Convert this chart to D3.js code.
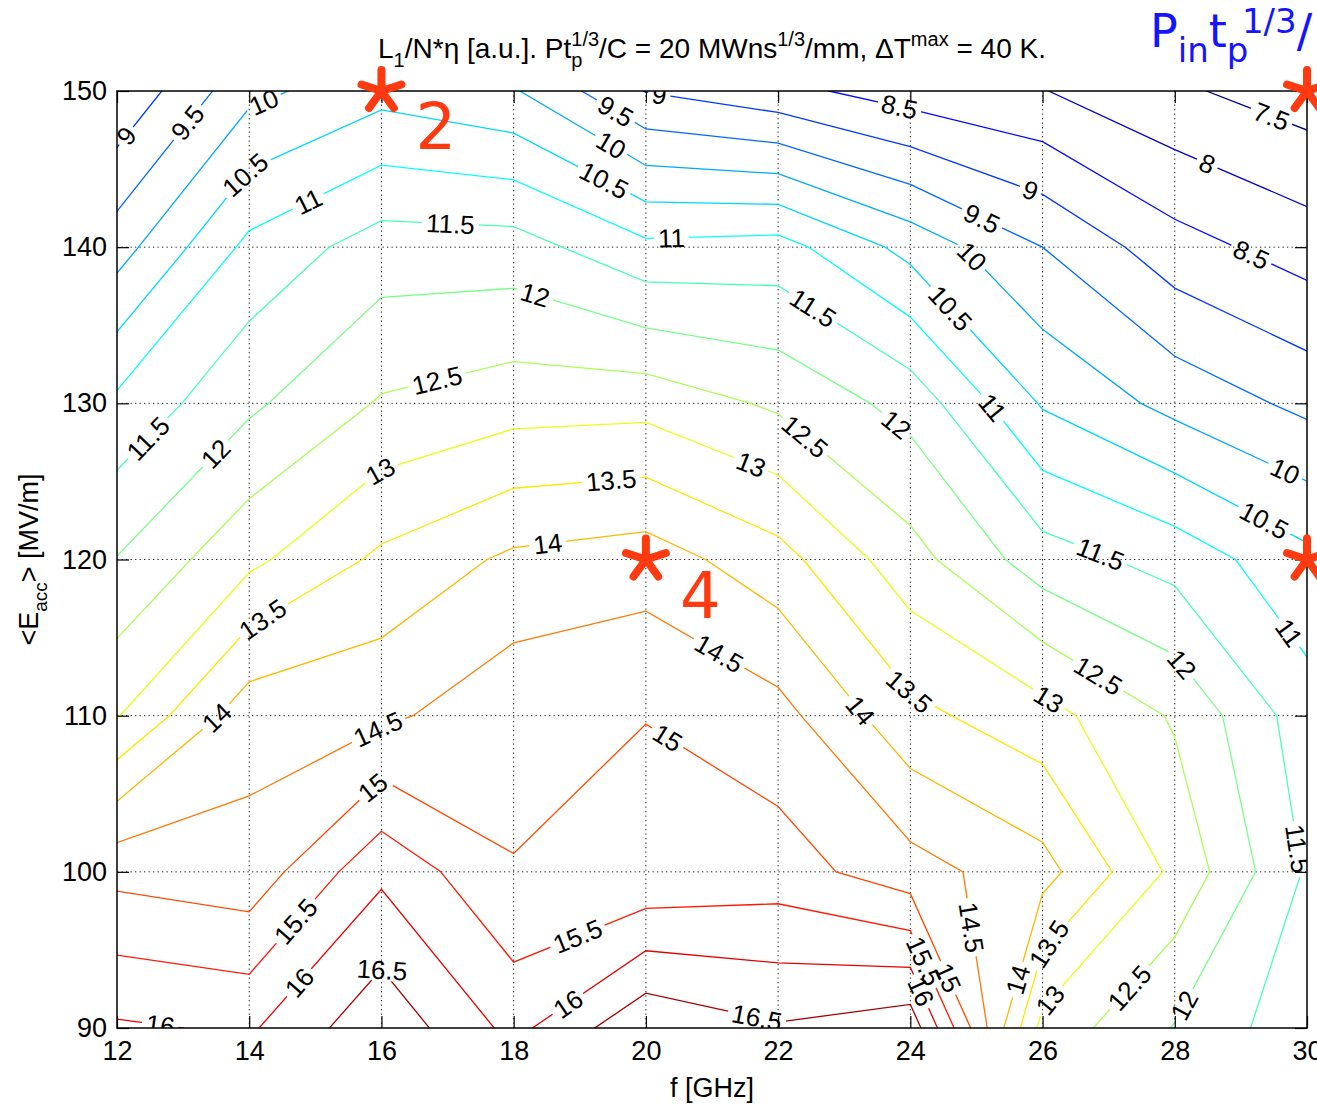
<!DOCTYPE html>
<html>
<head>
<meta charset="utf-8">
<script src="https://cdn.jsdelivr.net/npm/d3@7"></script>
<style>
  body { margin: 0; background: #fff; }
  svg { display: block; }
  text { font-family: "Liberation Sans", Arial, Helvetica, sans-serif; white-space: pre; }
</style>
</head>
<body>
<svg id="chart" width="1317" height="1104"></svg>
<script>
// grid of the map: frequency columns, gradient rows
const freq = [12, 14, 16, 18, 20, 22, 24, 26, 28, 30];
const eacc = [90, 100, 110, 120, 130, 140, 150];

// L1/N*eta, one row per <Eacc>, from 90 MV/m up
const z90  = [16.07, 15.93, 16.87, 15.85, 16.91, 16.55, 16.82, 12.83, 11.97, 11.15];
const z100 = [14.85, 14.68, 15.89, 15.02, 15.07, 15.23, 14.705, 14.19, 12.88, 11.44];
const z110 = [12.97, 14.31, 14.39, 14.85, 14.996, 14.68, 13.64, 13.19, 12.44, 11.22];
const z120 = [12.02, 12.88, 13.605, 14.1, 14.255, 13.69, 12.69, 11.73, 11.31, 10.635];
const z130 = [11.11, 11.905, 12.55, 12.785, 12.825, 12.415, 11.82, 10.45, 9.845, 9.37];
const z140 = [9.78, 11.135, 11.74, 11.72, 11.12, 11.2, 10.335, 9.5, 8.7, 8.265];
const z150 = [8.56, 9.86, 10.33, 10.05, 8.98, 8.65, 8.26, 8.02, 7.58, 7.245];

const levels = [7.5, 8, 8.5, 9, 9.5, 10, 10.5, 11, 11.5, 12, 12.5, 13, 13.5, 14, 14.5, 15, 15.5, 16, 16.5];

// inline contour labels: level and the (f, Eacc) spot where it sits
const labelLevel = [9, 9.5, 10, 10.5, 11, 11.5, 12, 12.5, 9.5, 10, 10.5, 11, 9, 8.5, 9.5, 10, 10.5, 11.5, 9, 8, 7.5, 8.5,
  11.5, 12, 13, 13.5, 14, 13.5, 14, 14.5, 12.5, 12, 13, 11, 13.5, 14, 10, 10.5, 11.5, 11, 12, 12.5, 13,
  14.5, 15, 15.5, 16, 16.5, 16, 15, 15.5, 16, 16.5, 14.5, 15, 15.5, 16, 14, 13.5, 13, 12.5, 12, 11.5];
const labelF = [12.22, 13.08, 14.24, 14.04, 14.92, 17.04, 18.3, 16.86, 19.51, 19.43, 19.33, 20.39, 20.19, 23.82, 25.0, 24.85, 24.52, 22.51, 25.79, 28.46, 29.45, 29.12,
  12.57, 13.51, 16.03, 14.24, 13.56, 19.48, 18.52, 21.05, 22.36, 23.72, 21.57, 25.16, 23.95, 23.16, 29.62, 29.29, 26.87, 29.65, 28.06, 26.82, 26.04,
  15.98, 15.93, 14.74, 14.77, 16.0, 12.65, 20.29, 19.0, 18.85, 21.68, 24.83, 24.55, 24.02, 24.1, 25.64, 26.14, 26.17, 27.38, 28.18, 29.75];
const labelE = [146.86, 147.93, 149.1, 144.3, 142.7, 141.2, 136.6, 131.17, 148.46, 146.22, 143.98, 140.25, 149.42, 148.67, 141.1, 139.07, 135.76, 135.98, 143.34, 145.05, 148.25, 139.18,
  127.33, 126.69, 125.41, 115.91, 109.61, 124.77, 120.82, 113.56, 127.65, 128.29, 125.84, 129.46, 111.43, 110.04, 125.2, 122.0, 120.29, 115.06, 113.14, 112.39, 110.68,
  108.87, 105.13, 96.7, 92.86, 93.7, 90.08, 108.33, 95.53, 91.36, 90.72, 96.38, 93.18, 93.93, 92.22, 93.07, 95.21, 91.58, 92.32, 91.36, 101.4];

// hand-drawn markers
const markF = [16, 20, 30, 30];
const markE = [150, 120, 150, 120];
const markTag = ["2", "4", "", ""];

const W = 1317, H = 1104;
const pL = 117, pR = 1307, pT = 91, pB = 1028;
const svg = d3.select("#chart");

const x = d3.scaleLinear().domain([12, 30]).range([pL, pR]);
const y = d3.scaleLinear().domain([90, 150]).range([pB, pT]);
// d3.contours puts sample i at grid coordinate i + 0.5
const gx = d3.scaleLinear().domain([0.5, freq.length - 0.5]).range([x(freq[0]), x(freq[freq.length - 1])]);
const gy = d3.scaleLinear().domain([0.5, eacc.length - 0.5]).range([y(eacc[0]), y(eacc[eacc.length - 1])]);

const values = [z90, z100, z110, z120, z130, z140, z150].flat();
const contours = d3.contours().size([freq.length, eacc.length]).thresholds(levels)(values);

// MATLAB jet(64) over the data range
const cnorm = d3.scaleLinear().domain(d3.extent(values)).range([0, 1]).clamp(true);
function jet(v) {
  const t = (Math.min(63, Math.floor(cnorm(v) * 64)) + 0.5) / 64;
  const c = k => Math.round(255 * Math.max(0, Math.min(1, k)));
  return d3.rgb(c(Math.min(4 * t - 1.5, -4 * t + 4.5)), c(Math.min(4 * t - 0.5, -4 * t + 3.5)), c(Math.min(4 * t + 0.5, -4 * t + 2.5))).formatHex();
}

const defs = svg.append("defs");
defs.append("clipPath").attr("id", "plotClip").append("rect")
  .attr("x", pL).attr("y", pT).attr("width", pR - pL).attr("height", pB - pT);

const gridG = svg.append("g");
const contourG = svg.append("g").attr("clip-path", "url(#plotClip)");
const labelG = svg.append("g").attr("clip-path", "url(#plotClip)");
const axesG = svg.append("g");
const annotG = svg.append("g");

// dotted grid
gridG.selectAll("line.v").data(freq.slice(1, -1)).join("line").attr("class", "v")
  .attr("x1", d => x(d)).attr("x2", d => x(d)).attr("y1", pT).attr("y2", pB);
gridG.selectAll("line.h").data(eacc.slice(1, -1)).join("line").attr("class", "h")
  .attr("x1", pL).attr("x2", pR).attr("y1", d => y(d)).attr("y2", d => y(d));
gridG.selectAll("line").attr("stroke", "#222").attr("stroke-width", 1).attr("stroke-dasharray", "1.3,3.2");

// contour rings in pixels; only the parts inside the axes are real lines
const inside = p => p[0] >= pL - 1 && p[0] <= pR + 1 && p[1] >= pT - 1 && p[1] <= pB + 1;
function ringsOf(c) {
  const rings = [];
  c.coordinates.forEach(poly => poly.forEach(ring => rings.push(ring.map(p => [gx(p[0]), gy(p[1])]))));
  return rings;
}
function locate(rings, p) {
  let best = null, bd = Infinity;
  rings.forEach((r, ri) => {
    for (let k = 1; k < r.length; k++) {
      const a = r[k - 1], b = r[k];
      if (!inside(a) || !inside(b)) continue;
      const dx = b[0] - a[0], dy = b[1] - a[1], L2 = dx * dx + dy * dy;
      let t = L2 ? ((p[0] - a[0]) * dx + (p[1] - a[1]) * dy) / L2 : 0;
      t = Math.max(0, Math.min(1, t));
      const q = [a[0] + t * dx, a[1] + t * dy];
      const d = Math.hypot(q[0] - p[0], q[1] - p[1]);
      if (d < bd) { bd = d; best = { r: r, k: k, q: q }; }
    }
  });
  return best;
}
// walk a distance along the ring from q, forwards (+1) or backwards (-1)
function walk(r, k, q, dist, dir) {
  const n = r.length - 1;
  let cur = q, idx = dir > 0 ? k : k - 1, rest = dist;
  for (let s = 0; s < n; s++) {
    const nxt = r[((idx % n) + n) % n];
    if (!inside(nxt)) return cur;
    const seg = Math.hypot(nxt[0] - cur[0], nxt[1] - cur[1]);
    if (seg >= rest) {
      const f = rest / seg;
      return [cur[0] + f * (nxt[0] - cur[0]), cur[1] + f * (nxt[1] - cur[1])];
    }
    rest -= seg; cur = nxt; idx += dir;
  }
  return cur;
}

// place labels along their lines, turned to the chord they cover
const labelSize = 26;
const placed = [];
labelLevel.forEach((lv, i) => {
  const c = contours.find(k => k.value === lv);
  const hit = locate(ringsOf(c), [x(labelF[i]), y(labelE[i])]);
  if (!hit) return;
  const t = labelG.append("text")
    .attr("text-anchor", "middle").attr("dy", "0.36em")
    .attr("font-size", labelSize).attr("fill", "#000")
    .text(String(lv));
  const w = t.node().getComputedTextLength();
  const A = walk(hit.r, hit.k, hit.q, w / 2, 1);
  const B = walk(hit.r, hit.k, hit.q, w / 2, -1);
  let a = Math.atan2(A[1] - B[1], A[0] - B[0]) * 180 / Math.PI;
  while (a > 90) a -= 180;
  while (a <= -90) a += 180;
  const tr = `translate(${hit.q[0]},${hit.q[1]}) rotate(${a})`;
  t.attr("transform", tr);
  placed.push({ level: lv, tr: tr, w: w });
});

// each level's line is broken under its own labels
levels.forEach((lv, k) => {
  const m = defs.append("mask").attr("id", "lvl" + k).attr("maskUnits", "userSpaceOnUse")
    .attr("x", 0).attr("y", 0).attr("width", W).attr("height", H);
  m.append("rect").attr("width", W).attr("height", H).attr("fill", "#fff");
  placed.filter(d => d.level === lv).forEach(d => {
    m.append("rect").attr("transform", d.tr)
      .attr("x", -d.w / 2 - 4).attr("y", -11).attr("width", d.w + 8).attr("height", 22)
      .attr("fill", "#000");
  });
});

const path = d3.geoPath(d3.geoTransform({
  point(px, py) { this.stream.point(gx(px), gy(py)); }
}));
contourG.selectAll("path").data(contours).join("path")
  .attr("d", path)
  .attr("fill", "none")
  .attr("stroke", d => jet(d.value))
  .attr("stroke-width", 1.3)
  .attr("mask", d => `url(#lvl${levels.indexOf(d.value)})`);

// axes with inward ticks on all four sides
const fs = 27;
const styleAxis = g => {
  g.select(".domain").remove();
  g.selectAll(".tick line").attr("stroke", "#000").attr("stroke-width", 1.2);
  g.selectAll(".tick text").attr("font-size", fs).attr("fill", "#000")
    .attr("font-family", '"Liberation Sans", Arial, Helvetica, sans-serif');
};
axesG.append("g").attr("transform", `translate(0,${pB})`)
  .call(d3.axisBottom(x).tickValues(freq).tickSize(-12).tickPadding(13).tickFormat(d3.format("d")))
  .call(styleAxis);
axesG.append("g").attr("transform", `translate(0,${pT})`)
  .call(d3.axisTop(x).tickValues(freq).tickSize(-12).tickFormat(""))
  .call(styleAxis);
axesG.append("g").attr("transform", `translate(${pL},0)`)
  .call(d3.axisLeft(y).tickValues(eacc).tickSize(-12).tickPadding(10).tickFormat(d3.format("d")))
  .call(styleAxis);
axesG.append("g").attr("transform", `translate(${pR},0)`)
  .call(d3.axisRight(y).tickValues(eacc).tickSize(-12).tickFormat(""))
  .call(styleAxis);
axesG.append("rect").attr("x", pL).attr("y", pT).attr("width", pR - pL).attr("height", pB - pT)
  .attr("fill", "none").attr("stroke", "#000").attr("stroke-width", 1.5);

// rich text with sub/superscripts; "over" puts a superscript back over the previous subscript
function rich(textSel, parts, base, small, supK = 0.42) {
  let shift = 0, prev = null;
  parts.forEach(([s, kind, back]) => {
    const ts = textSel.append("tspan").text(s);
    if (kind === "n") {
      ts.attr("font-size", base).attr("dy", -shift); shift = 0;
    } else if (kind === "sub") {
      const off = base * 0.32;
      ts.attr("font-size", small).attr("dy", off - shift); shift = off;
    } else {
      const off = -base * supK;
      ts.attr("font-size", small).attr("dy", off - shift); shift = off;
      if (kind === "over" && prev) ts.attr("dx", -prev.node().getComputedTextLength() * (back || 1));
    }
    prev = ts;
  });
}

rich(axesG.append("text").attr("x", (pL + pR) / 2).attr("y", 58).attr("text-anchor", "middle").attr("fill", "#000"),
  [["L", "n"], ["1", "sub"], ["/N*η [a.u.]. Pt", "n"], ["p", "sub"], ["1/3", "over"], ["/C = 20 MWns", "n"],
   ["1/3", "sup"], ["/mm, ΔT", "n"], ["max", "sup"], [" = 40 K.", "n"]], 28, 20);

axesG.append("text").attr("x", (pL + pR) / 2).attr("y", 1097).attr("text-anchor", "middle")
  .attr("font-size", fs).attr("fill", "#000").text("f [GHz]");

rich(axesG.append("text").attr("transform", `translate(38,${(pT + pB) / 2}) rotate(-90)`).attr("text-anchor", "middle").attr("fill", "#000"),
  [["<E", "n"], ["acc", "sub"], ["> [MV/m]", "n"]], fs, 19);

// blue annotation, cut off at the right edge as in the slide
rich(annotG.append("text").attr("x", 1150).attr("y", 47).attr("fill", "#1414ff")
    .style("font-family", '"DejaVu Sans", sans-serif'),
  [["P", "n"], ["in", "sub"], ["t", "n"], ["p", "sub"], ["1/3", "over", 0.3], ["/", "n"]], 46, 34, 0.3);

// red asterisks and their numbers
const star = d3.range(5).map(k => -90 + k * 72);
markF.forEach((f, i) => {
  const g = annotG.append("g").attr("transform", `translate(${x(f)},${y(markE[i])})`);
  g.selectAll("line").data(star).join("line")
    .attr("x1", 0).attr("y1", 0)
    .attr("x2", a => 21 * Math.cos(a * Math.PI / 180))
    .attr("y2", a => 21 * Math.sin(a * Math.PI / 180))
    .attr("stroke", "#ff3a10").attr("stroke-width", 8).attr("stroke-linecap", "round");
  if (markTag[i]) {
    g.append("text").attr("x", 34).attr("y", 58).attr("font-size", 64)
      .style("font-family", '"DejaVu Sans", sans-serif').attr("fill", "#ff3a10").text(markTag[i]);
  }
});
</script>
</body>
</html>
